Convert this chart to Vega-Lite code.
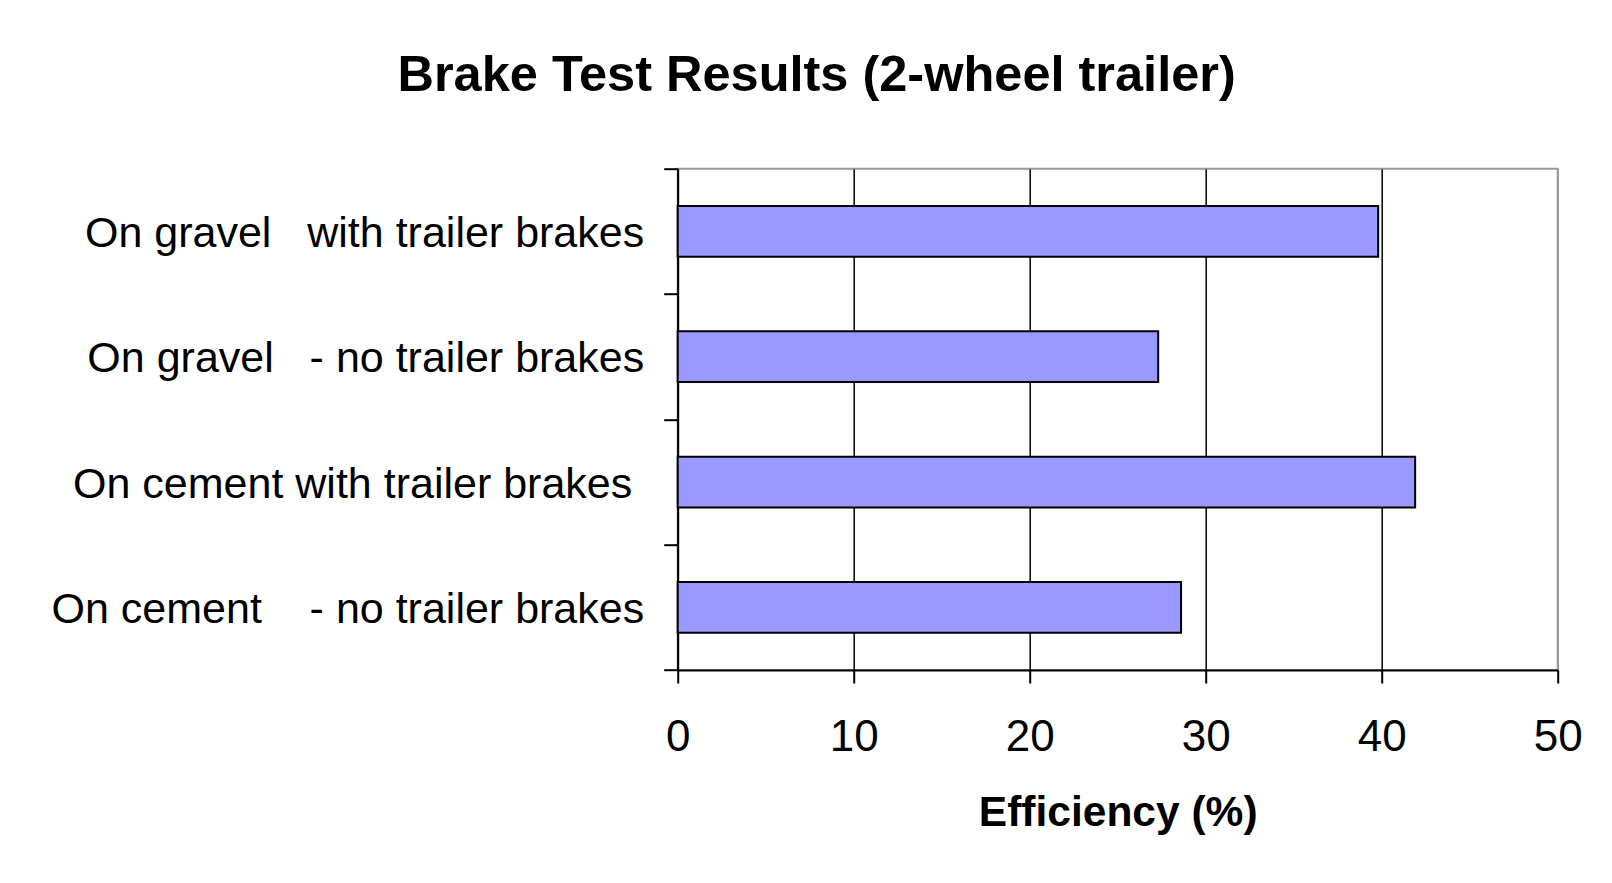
{
  "$schema": "https://vega.github.io/schema/vega-lite/v6.json",
  "width": 880,
  "height": 501.3,
  "autosize": {"type": "none"},
  "padding": {"left": 677.7, "top": 168.7, "right": 54.3, "bottom": 213},
  "background": "white",
  "title": {
    "text": "Brake Test Results (2-wheel trailer)",
    "font": "Liberation Sans",
    "fontSize": 50.5,
    "fontWeight": "bold",
    "color": "black",
    "anchor": "middle",
    "frame": "bounds",
    "offset": 46
  },
  "data": {
    "values": [
      {"condition": "On gravel\u00a0\u00a0 with trailer brakes", "efficiency": 39.8},
      {"condition": "On gravel\u00a0\u00a0 - no trailer brakes", "efficiency": 27.3},
      {"condition": "On cement with trailer brakes\u00a0\u200b", "efficiency": 41.9},
      {"condition": "On cement\u00a0\u00a0\u00a0 - no trailer brakes", "efficiency": 28.6}
    ]
  },
  "mark": {"type": "bar", "fill": "#9999ff", "stroke": "black", "strokeWidth": 2, "height": {"band": 0.405}},
  "encoding": {
    "y": {
      "field": "condition",
      "type": "nominal",
      "sort": null,
      "scale": {"paddingInner": 0, "paddingOuter": 0},
      "axis": {
        "title": null,
        "tickBand": "extent",
        "labelFont": "Liberation Sans",
        "labelFontSize": 43,
        "labelColor": "black",
        "labelPadding": 20,
        "labelOffset": 2,
        "labelLimit": 0,
        "tickSize": 14,
        "tickColor": "black",
        "tickWidth": 2,
        "domainColor": "black",
        "domainWidth": 2,
        "grid": false
      }
    },
    "x": {
      "field": "efficiency",
      "type": "quantitative",
      "scale": {"domain": [0, 50], "nice": false},
      "axis": {
        "values": [0, 10, 20, 30, 40, 50],
        "title": "Efficiency (%)",
        "titleFont": "Liberation Sans",
        "titleFontSize": 42.5,
        "titleFontWeight": "bold",
        "titleColor": "black",
        "titlePadding": 32,
        "labelFont": "Liberation Sans",
        "labelFontSize": 44,
        "labelColor": "black",
        "labelPadding": 32,
        "labelFlush": false,
        "tickSize": 13,
        "tickColor": "black",
        "tickWidth": 2,
        "domainColor": "black",
        "domainWidth": 2,
        "grid": true,
        "gridColor": {"condition": {"test": "datum.value === 50", "value": "#999999"}, "value": "black"},
        "gridWidth": 1.5,
        "gridOpacity": 1
      }
    }
  },
  "config": {"view": {"stroke": "#999999", "strokeWidth": 2}}
}
